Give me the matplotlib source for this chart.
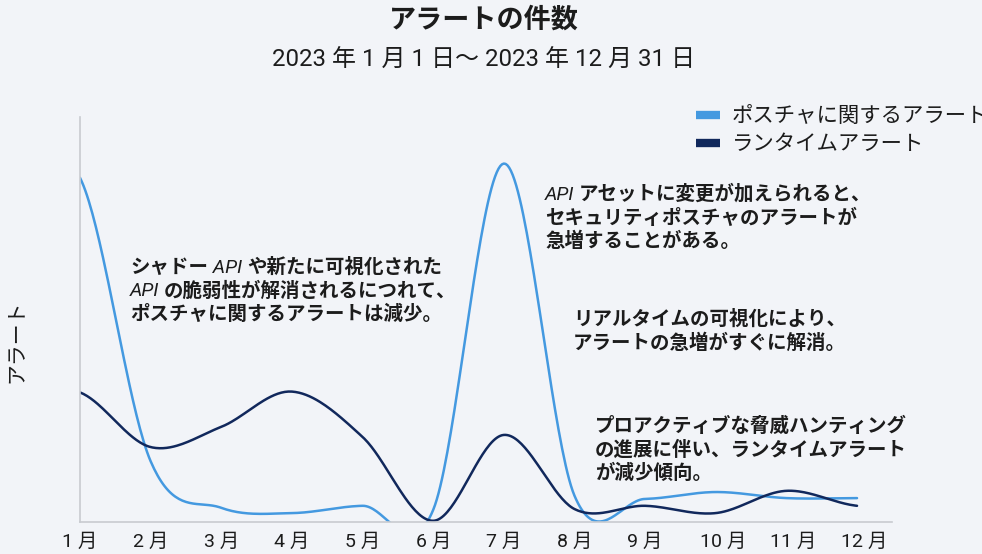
#!/usr/bin/env python3
"""Monthly alert counts for 2023: posture alerts vs runtime alerts, with callouts."""
import matplotlib
matplotlib.use("Agg")
import matplotlib.pyplot as plt
import numpy as np
from matplotlib.lines import Line2D
from matplotlib.transforms import ScaledTranslation

W, H = 982, 554
BG = "#f2f4f8"
INK = "#1c1c1c"
LIGHT = "#4499e0"
NAVY = "#11285c"

plt.rcParams["font.family"] = ["Roboto", "Noto Sans CJK JP", "DejaVu Sans"]

# monthly values (relative alert volume, 0-100 scale)
months = ["1 月", "2 月", "3 月", "4 月", "5 月", "6 月",
          "7 月", "8 月", "9 月", "10 月", "11 月", "12 月"]
posture_alerts = [85, 15, 3.5, 2.2, 4.0, 3.0, 88.5, 6.5, 5.7, 7.4, 5.9, 5.9]
runtime_alerts = [32, 18.5, 23.5, 32.2, 21, 0.3, 21.5, 3.2, 4.0, 2.2, 7.7, 4.0]
series_labels = ["ポスチャに関するアラート", "ランタイムアラート"]

# callouts: list of lines, each line a list of (text, italic) runs
callouts = [
    ((130, 273), [[("シャドー", False), (" API ", True), ("や新たに可視化された", False)],
                  [("API ", True), ("の脆弱性が解消されるにつれて、", False)],
                  [("ポスチャに関するアラートは減少。", False)]]),
    ((545, 200), [[("API ", True), ("アセットに変更が加えられると、", False)],
                  [("セキュリティポスチャのアラートが", False)],
                  [("急増することがある。", False)]]),
    ((573, 325), [[("リアルタイムの可視化により、", False)],
                  [("アラートの急増がすぐに解消。", False)]]),
    ((595, 432), [[("プロアクティブな脅威ハンティング", False)],
                  [("の進展に伴い、ランタイムアラート", False)],
                  [("が減少傾向。", False)]]),
]


def catmull_rom(y, steps=40):
    """Smooth curve through evenly spaced points (uniform Catmull-Rom)."""
    p = np.asarray(y, dtype=float)
    ext = np.concatenate([[p[0]], p, [p[-1]]])
    xs, ys = [], []
    for i in range(len(p) - 1):
        p0, p1, p2, p3 = ext[i], ext[i + 1], ext[i + 2], ext[i + 3]
        m1, m2 = (p2 - p0) / 2, (p3 - p1) / 2
        t = np.linspace(0, 1, steps, endpoint=False)
        h00 = 2 * t**3 - 3 * t**2 + 1
        h10 = t**3 - 2 * t**2 + t
        h01 = -2 * t**3 + 3 * t**2
        h11 = t**3 - t**2
        xs.append(i + t)
        ys.append(h00 * p1 + h10 * m1 + h01 * p2 + h11 * m2)
    xs.append([len(p) - 1])
    ys.append([p[-1]])
    return np.concatenate(xs), np.concatenate(ys)


fig = plt.figure(figsize=(W / 100, H / 100), dpi=100, facecolor=BG)
ax = fig.add_axes([80 / W, 32 / H, 812 / W, 405 / H], facecolor=BG)

x = np.arange(len(months))
for vals, color in [(posture_alerts, LIGHT), (runtime_alerts, NAVY)]:
    sx, sy = catmull_rom(vals)
    ax.plot(sx, sy, color=color, lw=1.8, solid_capstyle="round")

ax.set_xlim(0, 11.495)
ax.set_ylim(0, 100)
ax.set_yticks([])
ax.set_xticks(x)
ax.set_xticklabels(months, fontsize=14, color=INK)
ax.tick_params(axis="x", length=0, pad=8)
for lbl, name in zip(ax.get_xticklabels(), months):
    if len(name) > 3:
        lbl.set_transform(lbl.get_transform() + ScaledTranslation(7 / 100, 0, fig.dpi_scale_trans))
for side in ["top", "right"]:
    ax.spines[side].set_visible(False)
for side in ["left", "bottom"]:
    ax.spines[side].set_color("#c8cbd0")
    ax.spines[side].set_linewidth(1.2)

fig.text(484 / W, 1 - 20 / H, "アラートの件数", ha="center", va="center",
         fontsize=19.5, weight="bold", color=INK)
fig.text(484 / W, 1 - 59 / H, "2023 年 1 月 1 日～ 2023 年 12 月 31 日", ha="center",
         va="center", fontsize=17.3, color=INK)
fig.text(16 / W, 1 - 341 / H, "アラート", rotation=90, ha="center", va="center",
         fontsize=15, color=INK)

handles = [Line2D([], [], color=LIGHT, lw=6, solid_capstyle="butt"),
           Line2D([], [], color=NAVY, lw=6, solid_capstyle="butt")]
fig.legend(handles, series_labels, loc="upper left", bbox_to_anchor=(696 / W, 1 - 106 / H),
           frameon=False, fontsize=15.4, handlelength=1.1, handletextpad=0.58,
           labelspacing=0.42, borderpad=0, borderaxespad=0, labelcolor=INK)


def rich_line(x0, y0, runs):
    prev = None
    for text, italic in runs:
        style = dict(fontsize=14, color=INK, va="baseline", ha="left", annotation_clip=False)
        if italic:
            style.update(family=["Roboto", "DejaVu Sans"], style="italic", weight="normal")
        else:
            style.update(weight="bold")
        if prev is None:
            prev = ax.annotate(text, xy=(x0 / W, 1 - y0 / H), xycoords="figure fraction", **style)
        else:
            prev = ax.annotate(text, xy=(1, 1 - y0 / H), xycoords=(prev, "figure fraction"), **style)


for (cx, cy), lines in callouts:
    for k, runs in enumerate(lines):
        rich_line(cx, cy + k * 23.5, runs)

fig.savefig("out.png", dpi=100, facecolor=BG)
